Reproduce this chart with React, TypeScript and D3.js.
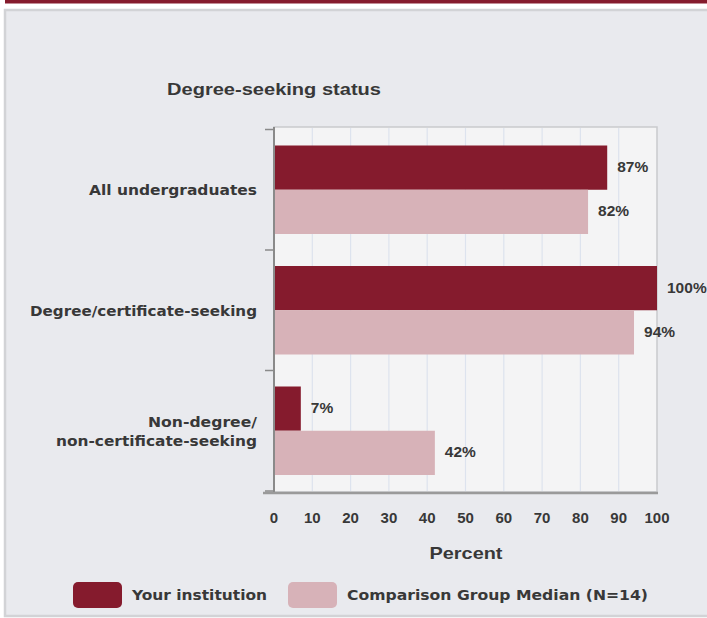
import React from "react";
import * as d3 from "d3";

const categories = ["All undergraduates", "Degree/certificate-seeking", "Non-degree/\nnon-certificate-seeking"];
const yourInstitution = [87, 100, 7];
const comparisonMedian = [82, 94, 42];
const xTicks = [0, 10, 20, 30, 40, 50, 60, 70, 80, 90, 100];
const seriesNames = ["Your institution", "Comparison Group Median (N=14)"];
const labelWidths = [[168], [227], [109, 201]];

const DARK = "#851b2d";
const LIGHT = "#d7b2b8";
const TXT = "#383838";

export default function App() {
  const W = 707, H = 618;
  const x = d3.scaleLinear().domain([0, 100]).range([274, 657]);
  const y = d3.scaleBand<number>().domain(d3.range(categories.length)).range([129.5, 491]);
  const inner = d3.scaleBand<number>().domain([0, 1]).range([16, y.bandwidth() - 16]);
  const series = [yourInstitution, comparisonMedian];
  const colors = [DARK, LIGHT];
  const sans = "'Liberation Sans', Arial, sans-serif";
  const wide = "'DejaVu Sans', Verdana, sans-serif";

  return (
    <div style={{ position: "fixed", left: 0, top: 0 }}>
      <svg width={W} height={H} style={{ display: "block" }}>
        <rect x={0} y={0} width={W} height={H} fill="#ffffff" />
        <rect x={5} y={0} width={W - 5} height={3.5} fill={DARK} />
        <rect x={5} y={10} width={W + 10} height={606} fill="#e9eaee" stroke="#d2d3d6" strokeWidth={2.5} />

        <text x={167} y={95} fontFamily={sans} fontWeight="bold" fontSize={16.5} fill={TXT}
          textLength={214} lengthAdjust="spacingAndGlyphs">Degree-seeking status</text>

        {/* plot area */}
        <rect x={274} y={127} width={383} height={365} fill="#f4f4f5" stroke="#c9cacd" strokeWidth={1.5} />
        {xTicks.slice(1, -1).map((t) => (
          <line key={t} x1={x(t)} x2={x(t)} y1={128} y2={491} stroke="#dde3ee" strokeWidth={1.2} />
        ))}

        {/* bars */}
        {series.map((vals, si) =>
          vals.map((v, ci) => (
            <rect key={`${si}-${ci}`} x={x(0)} y={(y(ci) ?? 0) + (inner(si) ?? 0)}
              width={x(v) - x(0)} height={inner.bandwidth()} fill={colors[si]} />
          ))
        )}
        {series.map((vals, si) =>
          vals.map((v, ci) => (
            <text key={`l${si}-${ci}`} x={x(v) + 10} y={(y(ci) ?? 0) + (inner(si) ?? 0) + inner.bandwidth() / 2 - 1}
              dominantBaseline="central" fontFamily={sans} fontWeight="bold" fontSize={15.5} fill={TXT}>
              {v}%
            </text>
          ))
        )}

        {/* axes */}
        <line x1={274} x2={274} y1={127} y2={493} stroke="#8a8a8a" strokeWidth={2} />
        <line x1={263} x2={658} y1={493} y2={493} stroke="#9a9a9a" strokeWidth={2.5} />
        {d3.range(categories.length + 1).map((i) => {
          const yy = i < categories.length ? (y(i) ?? 0) : 491;
          return <line key={i} x1={265} x2={274} y1={yy} y2={yy} stroke="#8a8a8a" strokeWidth={1.5} />;
        })}

        {categories.map((c, ci) => {
          const lines = c.split("\n");
          const cy = (y(ci) ?? 0) + y.bandwidth() / 2;
          return lines.map((ln, li) => (
            <text key={`${ci}-${li}`} x={257} y={cy + (li - (lines.length - 1) / 2) * 19 + 0.5}
              textAnchor="end" dominantBaseline="central" fontFamily={wide} fontWeight="bold"
              fontSize={14} fill={TXT} textLength={labelWidths[ci][li]} lengthAdjust="spacingAndGlyphs">
              {ln}
            </text>
          ));
        })}

        {xTicks.map((t) => (
          <text key={t} x={x(t)} y={517} textAnchor="middle" dominantBaseline="central"
            fontFamily={sans} fontWeight="bold" fontSize={15} fill={TXT}>{t}</text>
        ))}
        <text x={466} y={553} textAnchor="middle" dominantBaseline="central" fontFamily={sans}
          fontWeight="bold" fontSize={17} fill={TXT} textLength={73} lengthAdjust="spacingAndGlyphs">Percent</text>

        {/* legend */}
        <rect x={73} y={582} width={49} height={26} rx={5} fill={DARK} />
        <text x={132} y={595} dominantBaseline="central" fontFamily={wide} fontWeight="bold" fontSize={14}
          fill={TXT} textLength={135} lengthAdjust="spacingAndGlyphs">{seriesNames[0]}</text>
        <rect x={288} y={582} width={49} height={26} rx={5} fill={LIGHT} />
        <text x={347} y={595} dominantBaseline="central" fontFamily={wide} fontWeight="bold" fontSize={14}
          fill={TXT} textLength={301} lengthAdjust="spacingAndGlyphs">{seriesNames[1]}</text>
      </svg>
    </div>
  );
}
